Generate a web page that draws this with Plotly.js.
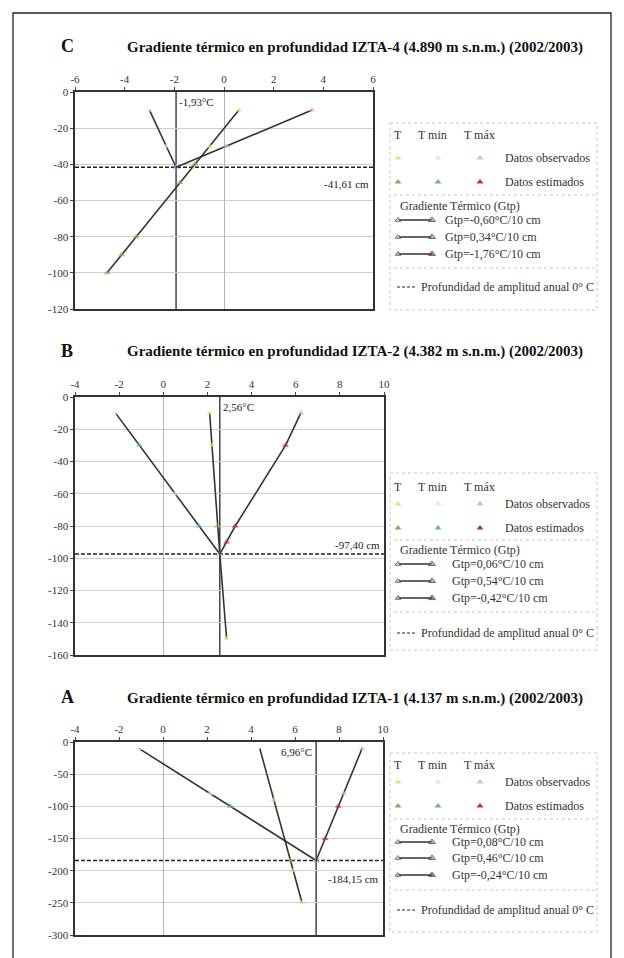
<!DOCTYPE html>
<html><head><meta charset="utf-8">
<script src="https://cdn.plot.ly/plotly-3.0.1.min.js"></script>
<style>html,body{margin:0;padding:0;background:#fff}</style>
</head><body><div id="chart" style="width:624px;height:958px"></div>
<script>
// ---------------- DATA ----------------
// Panel C — IZTA-4 (4.890 m s.n.m.)
const c_title = 'Gradiente térmico en profundidad IZTA-4 (4.890 m s.n.m.) (2002/2003)';
const c_xticks = [-6, -4, -2, 0, 2, 4, 6];
const c_yticks = [0, -20, -40, -60, -80, -100, -120];
const c_T_depth = [-10, -30, -40, -50, -80, -90, -100];
const c_T_temp = [0.60, -0.58, -1.18, -1.77, -3.53, -4.12, -4.71];
const c_T_status = [1, 1, 0, 0, 0, 0, 0];      // 1 observed, 0 estimated, 2 no marker
const c_Tmin_depth = [-10, -30, -41.61];
const c_Tmin_temp = [-3.00, -2.32, -1.93];
const c_Tmin_status = [1, 1, 0];
const c_Tmax_depth = [-10, -30, -41.61];
const c_Tmax_temp = [3.55, 0.11, -1.93];
const c_Tmax_status = [1, 1, 2];
const c_zeroTemp = -1.93, c_zeroDepth = -41.61;
const c_tempLabel = '-1,93°C', c_depthLabel = '-41,61 cm';
const c_gtp = ['Gtp=-0,60°C/10 cm', 'Gtp=0,34°C/10 cm', 'Gtp=-1,76°C/10 cm'];

// Panel B — IZTA-2 (4.382 m s.n.m.)
const b_title = 'Gradiente térmico en profundidad IZTA-2 (4.382 m s.n.m.) (2002/2003)';
const b_xticks = [-4, -2, 0, 2, 4, 6, 8, 10];
const b_yticks = [0, -20, -40, -60, -80, -100, -120, -140, -160];
const b_T_depth = [-10, -30, -80, -97.4, -150];
const b_T_temp = [2.10, 2.20, 2.46, 2.56, 2.87];
const b_T_status = [1, 1, 0, 2, 1];
const b_Tmin_depth = [-10, -30, -60, -80, -97.4];
const b_Tmin_temp = [-2.16, -1.08, 0.54, 1.62, 2.56];
const b_Tmin_status = [1, 0, 1, 0, 0];
const b_Tmax_depth = [-10, -30, -80, -90, -97.4];
const b_Tmax_temp = [6.23, 5.54, 3.26, 2.87, 2.56];
const b_Tmax_status = [1, 0, 0, 0, 2];
const b_zeroTemp = 2.56, b_zeroDepth = -97.40;
const b_tempLabel = '2,56°C', b_depthLabel = '-97,40 cm';
const b_gtp = ['Gtp=0,06°C/10 cm', 'Gtp=0,54°C/10 cm', 'Gtp=-0,42°C/10 cm'];

// Panel A — IZTA-1 (4.137 m s.n.m.)
const a_title = 'Gradiente térmico en profundidad IZTA-1 (4.137 m s.n.m.) (2002/2003)';
const a_xticks = [-4, -2, 0, 2, 4, 6, 8, 10];
const a_yticks = [0, -50, -100, -150, -200, -250, -300];
const a_T_depth = [-10, -90, -184.15, -200, -250];
const a_T_temp = [4.40, 5.04, 5.79, 5.92, 6.32];
const a_T_status = [2, 1, 0, 1, 1];
const a_Tmin_depth = [-10, -80, -100, -184.15];
const a_Tmin_temp = [-1.10, 2.14, 3.06, 6.96];
const a_Tmin_status = [1, 1, 0, 0];
const a_Tmax_depth = [-10, -80, -100, -150, -184.15];
const a_Tmax_temp = [9.05, 8.21, 7.97, 7.37, 6.96];
const a_Tmax_status = [1, 1, 0, 0, 2];
const a_zeroTemp = 6.96, a_zeroDepth = -184.15;
const a_tempLabel = '6,96°C', a_depthLabel = '-184,15 cm';
const a_gtp = ['Gtp=0,08°C/10 cm', 'Gtp=0,46°C/10 cm', 'Gtp=-0,24°C/10 cm'];

const legendHeader = ['T', 'T min', 'T máx'];
const legendObs = 'Datos observados';
const legendEst = 'Datos estimados';
const legendGrad = 'Gradiente Térmico (Gtp)';
const legendProf = 'Profundidad de amplitud anual 0° C';

// ---------------- STYLE / LAYOUT ----------------
const W = 624, H = 958;
const FONT = 'Liberation Serif';
const COL = {
  T: {obs: '#e4e47c', est: '#8cae48'},
  Tmin: {obs: '#d4eaf7', est: '#60b0e0'},
  Tmax: {obs: '#f5a8b8', est: '#d2223f'}
};
const LINE = '#333333';
const px = x => x / W;
const py = y => 1 - y / H;

const panels = [
  {suf: '', letter: 'C', title: c_title, xticks: c_xticks, yticks: c_yticks,
   xr: [-6, 6], yr: [-120, 0], box: [75, 373, 92, 309], ty: 47,
   series: {T: [c_T_temp, c_T_depth, c_T_status], Tmin: [c_Tmin_temp, c_Tmin_depth, c_Tmin_status], Tmax: [c_Tmax_temp, c_Tmax_depth, c_Tmax_status]},
   zt: c_zeroTemp, zd: c_zeroDepth, tl: c_tempLabel, dl: c_depthLabel, tlSide: 'right', dlBelow: true, dlShift: -9,
   gtp: c_gtp, gtpX: 443,
   leg: {box: [390, 597, 123, 310], header: 135, obs: 158, est: 182, sep1: 195, grad: 206, g: [220, 237, 254], sep2: 268, prof: 287}},
  {suf: '2', letter: 'B', title: b_title, xticks: b_xticks, yticks: b_yticks,
   xr: [-4, 10], yr: [-160, 0], box: [75, 384, 397, 655], ty: 352,
   series: {T: [b_T_temp, b_T_depth, b_T_status], Tmin: [b_Tmin_temp, b_Tmin_depth, b_Tmin_status], Tmax: [b_Tmax_temp, b_Tmax_depth, b_Tmax_status]},
   zt: b_zeroTemp, zd: b_zeroDepth, tl: b_tempLabel, dl: b_depthLabel, tlSide: 'right', dlBelow: false, dlShift: 1,
   gtp: b_gtp, gtpX: 450,
   leg: {box: [390, 597, 473, 650], header: 487, obs: 504, est: 528, sep1: 540, grad: 550, g: [564, 581, 598], sep2: 612, prof: 633}},
  {suf: '3', letter: 'A', title: a_title, xticks: a_xticks, yticks: a_yticks,
   xr: [-4, 10], yr: [-300, 0], box: [75, 383, 742, 935], ty: 698,
   series: {T: [a_T_temp, a_T_depth, a_T_status], Tmin: [a_Tmin_temp, a_Tmin_depth, a_Tmin_status], Tmax: [a_Tmax_temp, a_Tmax_depth, a_Tmax_status]},
   zt: a_zeroTemp, zd: a_zeroDepth, tl: a_tempLabel, dl: a_depthLabel, tlSide: 'left', dlBelow: true, dlShift: -11,
   gtp: a_gtp, gtpX: 450,
   leg: {box: [390, 597, 753, 932], header: 765, obs: 782, est: 806, sep1: 819, grad: 829, g: [842, 858, 875], sep2: 890, prof: 910}}
];

const traces = [];
const shapes = [];
const annotations = [];
const layout = {
  width: W, height: H, margin: {l: 0, r: 0, t: 0, b: 0},
  paper_bgcolor: '#ffffff', plot_bgcolor: 'rgba(0,0,0,0)',
  showlegend: false, font: {family: FONT, color: '#222'},
  xaxis4: {domain: [0, 1], range: [0, W], visible: false, fixedrange: true, anchor: 'y4'},
  yaxis4: {domain: [0, 1], range: [H, 0], visible: false, fixedrange: true, anchor: 'x4'}
};

const tfont = {family: FONT, size: 11, color: '#333'};

panels.forEach(p => {
  const xa = 'xaxis' + p.suf, ya = 'yaxis' + p.suf;
  const xr = 'x' + p.suf, yr = 'y' + p.suf;
  layout[xa] = {
    domain: [px(p.box[0]), px(p.box[1])], range: p.xr, side: 'top', anchor: yr,
    tickvals: p.xticks, ticktext: p.xticks.map(String), tickfont: tfont,
    showline: true, mirror: true, linecolor: '#333', linewidth: 1.6,
    showgrid: false, zeroline: true, zerolinecolor: '#b5b5b5', zerolinewidth: 1,
    ticks: 'outside', ticklen: 3, tickcolor: '#444', fixedrange: true
  };
  layout[ya] = {
    domain: [py(p.box[3]), py(p.box[2])], range: p.yr, anchor: xr,
    tickvals: p.yticks, ticktext: p.yticks.map(String), tickfont: tfont,
    showline: true, mirror: true, linecolor: '#333', linewidth: 1.6,
    showgrid: true, gridcolor: '#cdcdcd', gridwidth: 1, zeroline: false,
    ticks: 'outside', ticklen: 3, tickcolor: '#444', fixedrange: true
  };
  // reference lines
  shapes.push({type: 'line', xref: xr, yref: yr + ' domain', x0: p.zt, x1: p.zt, y0: 0, y1: 1,
    line: {color: '#444', width: 1.5}, layer: 'below'});
  shapes.push({type: 'line', xref: xr + ' domain', yref: yr, x0: 0, x1: 1, y0: p.zd, y1: p.zd,
    line: {color: '#222', width: 1.5, dash: '4px,2px'}, layer: 'below'});
  // series
  ['T', 'Tmin', 'Tmax'].forEach(s => {
    const [t, d, st] = p.series[s];
    traces.push({
      x: t, y: d, xaxis: xr, yaxis: yr, mode: 'lines+markers', hoverinfo: 'skip',
      line: {color: LINE, width: 1.6},
      marker: {symbol: 'triangle-up', size: st.map(v => v === 2 ? 0 : 6),
               color: st.map(v => v === 1 ? COL[s].obs : COL[s].est), line: {width: 0}}
    });
  });
  // labels
  annotations.push({xref: xr, yref: yr + ' domain', x: p.zt, y: 1, yanchor: 'top',
    xanchor: p.tlSide === 'right' ? 'left' : 'right', xshift: p.tlSide === 'right' ? 1 : -2, yshift: -2,
    text: p.tl, showarrow: false, font: {family: FONT, size: 11, color: '#222'}});
  annotations.push({xref: xr + ' domain', yref: yr, x: 1, y: p.zd, xanchor: 'right', xshift: -2,
    yanchor: p.dlBelow ? 'top' : 'bottom', yshift: p.dlShift,
    text: p.dl, showarrow: false, font: {family: FONT, size: 11, color: '#222'}});
  // titles
  annotations.push({xref: 'paper', yref: 'paper', x: px(67), y: py(p.ty - 1), xanchor: 'center', yanchor: 'middle',
    text: '<b>' + p.letter + '</b>', showarrow: false, font: {family: FONT, size: 18, color: '#111'}});
  annotations.push({xref: 'paper', yref: 'paper', x: px(355), y: py(p.ty), xanchor: 'center', yanchor: 'middle',
    text: '<b>' + p.title + '</b>', showarrow: false, font: {family: FONT, size: 15, color: '#111'}});

  // legend box
  const L = p.leg;
  const lf = {family: FONT, size: 12, color: '#333'};
  shapes.push({type: 'rect', xref: 'x4', yref: 'y4', x0: L.box[0], x1: L.box[1], y0: L.box[2], y1: L.box[3],
    line: {color: '#c4c4c4', width: 1, dash: 'dot'}});
  [L.sep1, L.sep2].forEach(yv => shapes.push({type: 'line', xref: 'x4', yref: 'y4', x0: L.box[0] + 4, x1: L.box[1] - 2, y0: yv, y1: yv,
    line: {color: '#c8c8c8', width: 1, dash: 'dot'}}));
  const colsX = [398, 438, 480];
  const headerX = [398, 432, 479];
  legendHeader.forEach((h, i) => annotations.push({xref: 'x4', yref: 'y4', x: headerX[i], y: L.header, xanchor: 'center', yanchor: 'middle',
    text: h, showarrow: false, font: lf}));
  annotations.push({xref: 'x4', yref: 'y4', x: 503, y: L.obs, xanchor: 'left', yanchor: 'middle', text: legendObs, showarrow: false, font: lf});
  annotations.push({xref: 'x4', yref: 'y4', x: 503, y: L.est, xanchor: 'left', yanchor: 'middle', text: legendEst, showarrow: false, font: lf});
  annotations.push({xref: 'x4', yref: 'y4', x: 398, y: L.grad, xanchor: 'left', yanchor: 'middle', text: legendGrad, showarrow: false, font: lf});
  annotations.push({xref: 'x4', yref: 'y4', x: 419, y: L.prof, xanchor: 'left', yanchor: 'middle', text: legendProf, showarrow: false, font: lf});
  shapes.push({type: 'line', xref: 'x4', yref: 'y4', x0: 397, x1: 416, y0: L.prof, y1: L.prof, line: {color: '#222', width: 1.2, dash: '3px,2px'}});
  const keys = ['T', 'Tmin', 'Tmax'];
  traces.push({x: colsX, y: [L.obs, L.obs, L.obs], xaxis: 'x4', yaxis: 'y4', mode: 'markers', hoverinfo: 'skip',
    marker: {symbol: 'triangle-up', size: 6, color: keys.map(k => COL[k].obs)}});
  traces.push({x: colsX, y: [L.est, L.est, L.est], xaxis: 'x4', yaxis: 'y4', mode: 'markers', hoverinfo: 'skip',
    marker: {symbol: 'triangle-up', size: 6, color: keys.map(k => COL[k].est)}});
  keys.forEach((k, i) => {
    const yv = L.g[i];
    traces.push({x: [398, 432], y: [yv, yv], xaxis: 'x4', yaxis: 'y4', mode: 'lines+markers', hoverinfo: 'skip',
      line: {color: LINE, width: 1.3},
      marker: {symbol: ['triangle-up', 'triangle-up'], size: [5, 6], color: [COL[k].obs, COL[k].est]}});
    annotations.push({xref: 'x4', yref: 'y4', x: p.gtpX, y: yv, xanchor: 'left', yanchor: 'middle', text: p.gtp[i], showarrow: false, font: lf});
  });
});

// outer frame
shapes.push({type: 'rect', xref: 'x4', yref: 'y4', x0: 13, x1: 611, y0: 13, y1: 975, line: {color: '#222', width: 1.3}});

layout.shapes = shapes;
layout.annotations = annotations;

Plotly.newPlot('chart', traces, layout, {displayModeBar: false, staticPlot: true});
</script></body></html>
